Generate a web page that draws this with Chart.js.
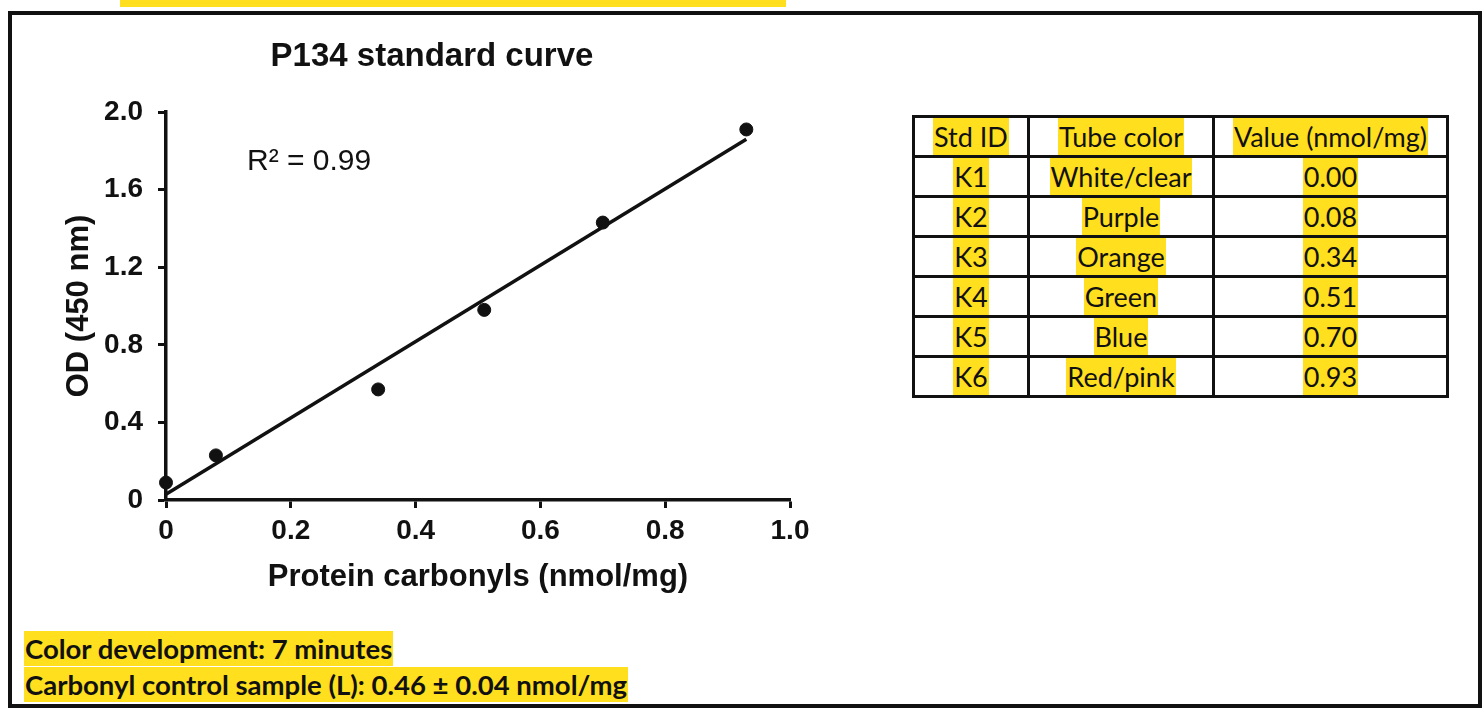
<!DOCTYPE html>
<html>
<head>
<meta charset="utf-8">
<script src="https://cdn.jsdelivr.net/npm/chart.js@4.4.1/dist/chart.umd.min.js"></script>
<style>
  html, body { margin: 0; padding: 0; background: #fff; }
  body { width: 1482px; height: 709px; position: relative; overflow: hidden; }
  .frame { position: absolute; left: 8px; top: 11px; width: 1466px; height: 689px; border: 4px solid #111; }
  .strip { position: absolute; left: 120px; top: 0; width: 666px; height: 7px; background: #ffdf1e; }
  #chart { position: absolute; left: 0; top: 0; }
  .title { position: absolute; left: 0; top: 38px; width: 864px; text-align: center;
           font: bold 33px/33px "Liberation Sans", Arial, sans-serif; color: #111; }
  .r2 { position: absolute; left: 247px; top: 145px; font: 30px/30px "Liberation Sans", Arial, sans-serif; color: #111; }
  table { position: absolute; left: 912px; top: 115px; width: 534px; table-layout: fixed; border-collapse: collapse;
          font: 27px Lato, "Noto Sans", sans-serif; color: #111; }
  td { border: 3px solid #111; padding: 0; text-align: center; height: 37px; white-space: nowrap; }
  tr:first-child td { height: 38px; }
  td span, .note span { background: #ffdf1e; display: inline-block; }
  td span { line-height: 37px; padding: 0 1px; }
  .note { position: absolute; left: 24px; font: bold 27.5px Lato, "Noto Sans", sans-serif; color: #111; }
  .note span { line-height: 35px; padding: 0 1px; }
</style>
</head>
<body>
<div class="strip"></div>
<div class="frame"></div>
<canvas id="chart" width="900" height="620"></canvas>
<div class="title">P134 standard curve</div>
<div class="r2">R² = 0.99</div>
<table id="stdTable"><colgroup><col style="width:115px"><col style="width:185px"><col style="width:234px"></colgroup></table>
<div class="note" style="top:631px"><span>Color development: 7 minutes</span></div>
<div class="note" style="top:667px"><span>Carbonyl control sample (L): 0.46 ± 0.04 nmol/mg</span></div>
<script>
// standards
const stdX = [0, 0.08, 0.34, 0.51, 0.70, 0.93];
const stdOD = [0.09, 0.23, 0.57, 0.98, 1.43, 1.91];
// linear fit line ends
const fitX = [0, 0.93];
const fitOD = [0.03, 1.86];
const xTicks = [0, 0.2, 0.4, 0.6, 0.8, 1.0];
const yTicks = [0, 0.4, 0.8, 1.2, 1.6, 2.0];

// table
const tableHead = ['Std ID', 'Tube color', 'Value (nmol/mg)'];
const stdIds = ['K1', 'K2', 'K3', 'K4', 'K5', 'K6'];
const tubeColors = ['White/clear', 'Purple', 'Orange', 'Green', 'Blue', 'Red/pink'];
const stdValues = ['0.00', '0.08', '0.34', '0.51', '0.70', '0.93'];

const table = document.getElementById('stdTable');
const rows = [tableHead].concat(stdIds.map((id, i) => [id, tubeColors[i], stdValues[i]]));
rows.forEach(r => {
    const tr = document.createElement('tr');
    r.forEach(txt => {
        const td = document.createElement('td');
        const sp = document.createElement('span');
        sp.textContent = txt;
        td.appendChild(sp);
        tr.appendChild(td);
    });
    table.appendChild(tr);
});

const fmt = v => (v === 0 ? '0' : v.toFixed(1));

Chart.defaults.font.family = '"Liberation Sans", Arial, sans-serif';
Chart.defaults.color = '#111';

const el = document.getElementById('chart').getContext('2d');
new Chart(el, {
    type: 'scatter',
    data: {
        datasets: [
            {
                // fit line
                type: 'line',
                data: fitX.map((x, i) => ({ x: x, y: fitOD[i] })),
                borderColor: '#111',
                borderWidth: 3.5,
                pointRadius: 0,
                clip: false
            },
            {
                data: stdX.map((x, i) => ({ x: x, y: stdOD[i] })),
                backgroundColor: '#111',
                borderColor: '#111',
                pointRadius: 6.5,
                clip: false
            }
        ]
    },
    options: {
        responsive: false,
        animation: false,
        layout: {
            padding: { left: 46, right: 110, top: 112, bottom: 20 }
        },
        plugins: {
            legend: { display: false },
            tooltip: { enabled: false }
        },
        scales: {
            x: {
                type: 'linear',
                min: 0,
                max: 1,
                afterBuildTicks: s => { s.ticks = xTicks.map(v => ({ value: v })); },
                afterFit: s => { s.height = 100; },
                ticks: {
                    callback: fmt,
                    font: { size: 28, weight: 'bold' },
                    padding: 6,
                    maxRotation: 0
                },
                grid: { drawOnChartArea: false, drawTicks: true, tickLength: 8, tickColor: '#111', tickWidth: 3 },
                border: { display: true, color: '#111', width: 3.5 },
                title: {
                    display: true,
                    text: 'Protein carbonyls (nmol/mg)',
                    font: { size: 31, weight: 'bold' },
                    padding: { top: 4, bottom: 4 }
                }
            },
            y: {
                min: 0,
                max: 2,
                afterBuildTicks: s => { s.ticks = yTicks.map(v => ({ value: v })); },
                afterFit: s => { s.width = 120; },
                ticks: {
                    callback: fmt,
                    font: { size: 28, weight: 'bold' },
                    padding: 15
                },
                grid: { drawOnChartArea: false, drawTicks: true, tickLength: 8, tickColor: '#111', tickWidth: 3 },
                border: { display: true, color: '#111', width: 3.5 },
                title: {
                    display: true,
                    text: 'OD (450 nm)',
                    font: { size: 31, weight: 'bold' },
                    padding: { top: 15, bottom: 15 }
                }
            }
        }
    }
});
</script>
</body>
</html>
